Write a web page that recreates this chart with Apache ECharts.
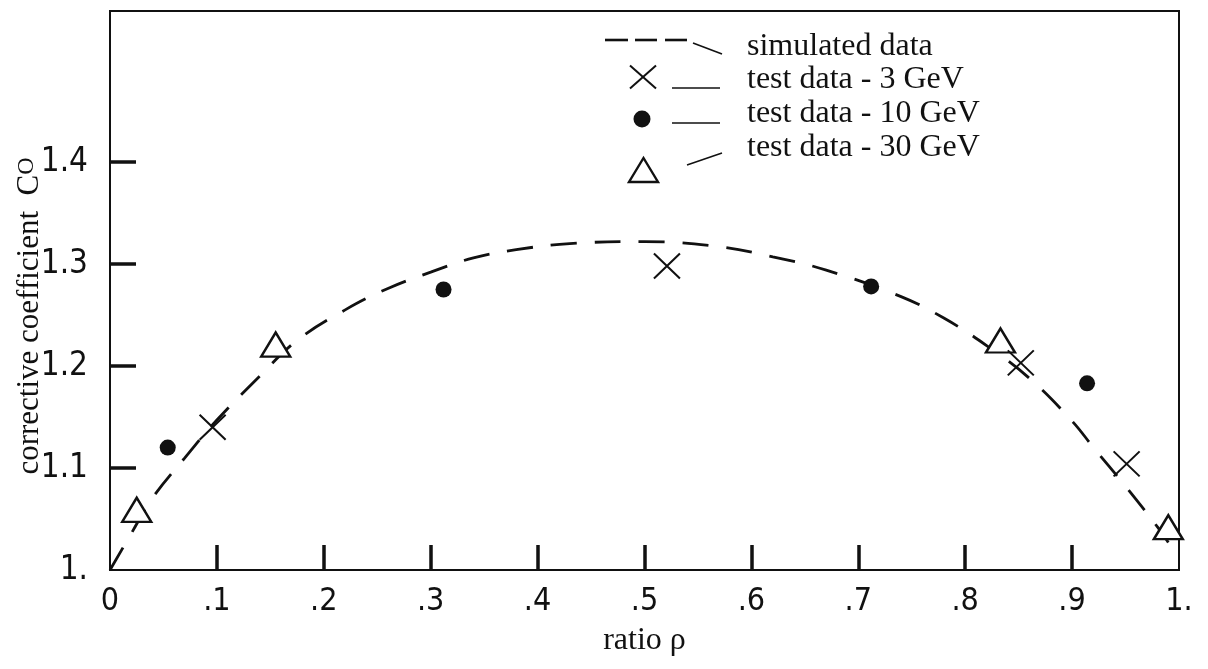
<!DOCTYPE html>
<html>
<head>
<meta charset="utf-8">
<title>Corrective coefficient vs ratio</title>
<script src="https://cdn.jsdelivr.net/npm/echarts@6/dist/echarts.min.js"></script>
<style>
  html, body { margin: 0; padding: 0; background: #fff; }
  #chart { width: 1208px; height: 669px; }
</style>
</head>
<body>
<div id="chart"></div>
<script>
// Axis ticks and their printed labels
const xTickValues = [0, 0.1, 0.2, 0.3, 0.4, 0.5, 0.6, 0.7, 0.8, 0.9, 1.0];
const xTickLabels = ['0', '.1', '.2', '.3', '.4', '.5', '.6', '.7', '.8', '.9', '1.'];
const yTickValues = [1.0, 1.1, 1.2, 1.3, 1.4];
const yTickLabels = ['1.', '1.1', '1.2', '1.3', '1.4'];

// Simulated curve (dashed)
const simRho = [0, 0.02, 0.04, 0.07, 0.10, 0.14, 0.175, 0.22, 0.26, 0.30, 0.34, 0.38, 0.43, 0.50, 0.57, 0.62, 0.67, 0.74, 0.78, 0.82, 0.86, 0.90, 0.92, 0.95, 0.98, 0.99];
const simC   = [1.000, 1.036, 1.071, 1.110, 1.147, 1.190, 1.225, 1.255, 1.276, 1.292, 1.306, 1.314, 1.320, 1.322, 1.317, 1.307, 1.294, 1.268, 1.247, 1.220, 1.188, 1.146, 1.120, 1.082, 1.042, 1.027];

// Test data, 3 GeV (crosses)
const rho3 = [0.096, 0.521, 0.852, 0.951];
const c3   = [1.140, 1.298, 1.203, 1.104];

// Test data, 10 GeV (filled dots)
const rho10 = [0.054, 0.312, 0.712, 0.914];
const c10   = [1.120, 1.275, 1.278, 1.183];

// Test data, 30 GeV (open triangles)
const rho30 = [0.025, 0.155, 0.833, 0.990];
const c30   = [1.059, 1.221, 1.225, 1.042];

const pairs = (xs, ys) => xs.map((x, i) => [x, ys[i]]);
const lookup = (vals, labels) => v => {
  const i = vals.findIndex(t => Math.abs(t - v) < 1e-6);
  return i >= 0 ? labels[i] : '';
};

const INK = '#111';
const tickFont = "'Liberation Sans Narrow', 'DejaVu Sans Condensed', 'Arial Narrow', sans-serif";
const serif = "'Liberation Serif', 'DejaVu Serif', serif";

const chart = echarts.init(document.getElementById('chart'), null, { renderer: 'canvas' });

// Legend block: key symbol, short leader stroke, caption
const legendText = (y, text) => ({
  type: 'text', x: 747, y: y, silent: true,
  style: { text: text, font: '32px ' + serif, fill: INK, align: 'left', verticalAlign: 'middle' }
});
const stroke = (x1, y1, x2, y2, w) => ({
  type: 'line', silent: true,
  shape: { x1: x1, y1: y1, x2: x2, y2: y2 },
  style: { stroke: INK, lineWidth: w || 1.6 }
});

const option = {
  backgroundColor: '#fff',
  animation: false,
  grid: {
    left: 110, right: 29, top: 11, bottom: 99,
    show: true, borderColor: INK, borderWidth: 2, backgroundColor: 'transparent'
  },
  xAxis: {
    type: 'value', min: 0, max: 1,
    name: 'ratio ρ', nameLocation: 'middle', nameGap: 55,
    nameTextStyle: { fontFamily: serif, fontSize: 32, color: INK },
    axisLine: { show: true, lineStyle: { color: INK, width: 2 } },
    axisTick: {
      show: true, inside: true, length: 25,
      customValues: xTickValues.slice(1, -1),
      lineStyle: { color: INK, width: 3.5 }
    },
    axisLabel: {
      customValues: xTickValues,
      formatter: lookup(xTickValues, xTickLabels),
      margin: 16, color: INK, fontFamily: tickFont, fontSize: 32
    },
    splitLine: { show: false }
  },
  yAxis: {
    type: 'value', min: 1.0, max: 1.548,
    axisLine: { show: true, lineStyle: { color: INK, width: 2 } },
    axisTick: {
      show: true, inside: true, length: 26,
      customValues: yTickValues.slice(1),
      lineStyle: { color: INK, width: 3.5 }
    },
    axisLabel: {
      customValues: yTickValues,
      formatter: lookup(yTickValues, yTickLabels),
      margin: 22, color: INK, fontFamily: tickFont, fontSize: 33
    },
    splitLine: { show: false }
  },
  series: [
    {
      name: 'simulated data', type: 'line', data: pairs(simRho, simC),
      smooth: 0.4, symbol: 'none', z: 2,
      lineStyle: { color: INK, width: 2.8, type: [26, 18] }
    },
    {
      name: 'test data - 3 GeV', type: 'scatter', data: pairs(rho3, c3), z: 4,
      symbol: 'path://M0,0L24,24M24,0L0,24', symbolSize: [26, 25],
      itemStyle: { color: 'transparent', borderColor: INK, borderWidth: 2, opacity: 1 }
    },
    {
      name: 'test data - 10 GeV', type: 'scatter', data: pairs(rho10, c10), z: 4,
      symbol: 'circle', symbolSize: 16,
      itemStyle: { color: INK, opacity: 1 }
    },
    {
      name: 'test data - 30 GeV', type: 'scatter', data: pairs(rho30, c30), z: 3,
      symbol: 'triangle', symbolSize: [29, 24],
      itemStyle: { color: '#fff', borderColor: INK, borderWidth: 2.4, opacity: 1 }
    }
  ],
  graphic: [
    // y-axis title with raised superscript
    {
      type: 'text', x: 30, y: 316, rotation: Math.PI / 2, silent: true,
      style: {
        text: 'corrective coefficient  C{sup|O}',
        font: '31px ' + serif, fill: INK, align: 'center', verticalAlign: 'middle',
        rich: { sup: { fontFamily: serif, fontSize: 24, verticalAlign: 'top', fill: INK } }
      }
    },
    // key: simulated data
    stroke(605, 40, 628, 40, 2.6), stroke(635, 40, 657, 40, 2.6), stroke(665, 40, 687, 40, 2.6),
    stroke(693, 43, 722, 54),
    legendText(46.5, 'simulated data'),
    // key: 3 GeV
    stroke(630, 65.5, 656, 88.5, 2), stroke(656, 65.5, 630, 88.5, 2),
    stroke(672, 88, 720, 88),
    legendText(79.5, 'test data - 3 GeV'),
    // key: 10 GeV
    { type: 'circle', silent: true, shape: { cx: 642, cy: 119, r: 8.5 }, style: { fill: INK } },
    stroke(672, 123, 720, 123),
    legendText(113.5, 'test data - 10 GeV'),
    // key: 30 GeV
    {
      type: 'polygon', silent: true,
      shape: { points: [[629, 182], [658, 182], [643.5, 158]] },
      style: { fill: '#fff', stroke: INK, lineWidth: 2.4 }
    },
    stroke(687, 165, 722, 153),
    legendText(147.5, 'test data - 30 GeV')
  ]
};

chart.setOption(option);
</script>
</body>
</html>
